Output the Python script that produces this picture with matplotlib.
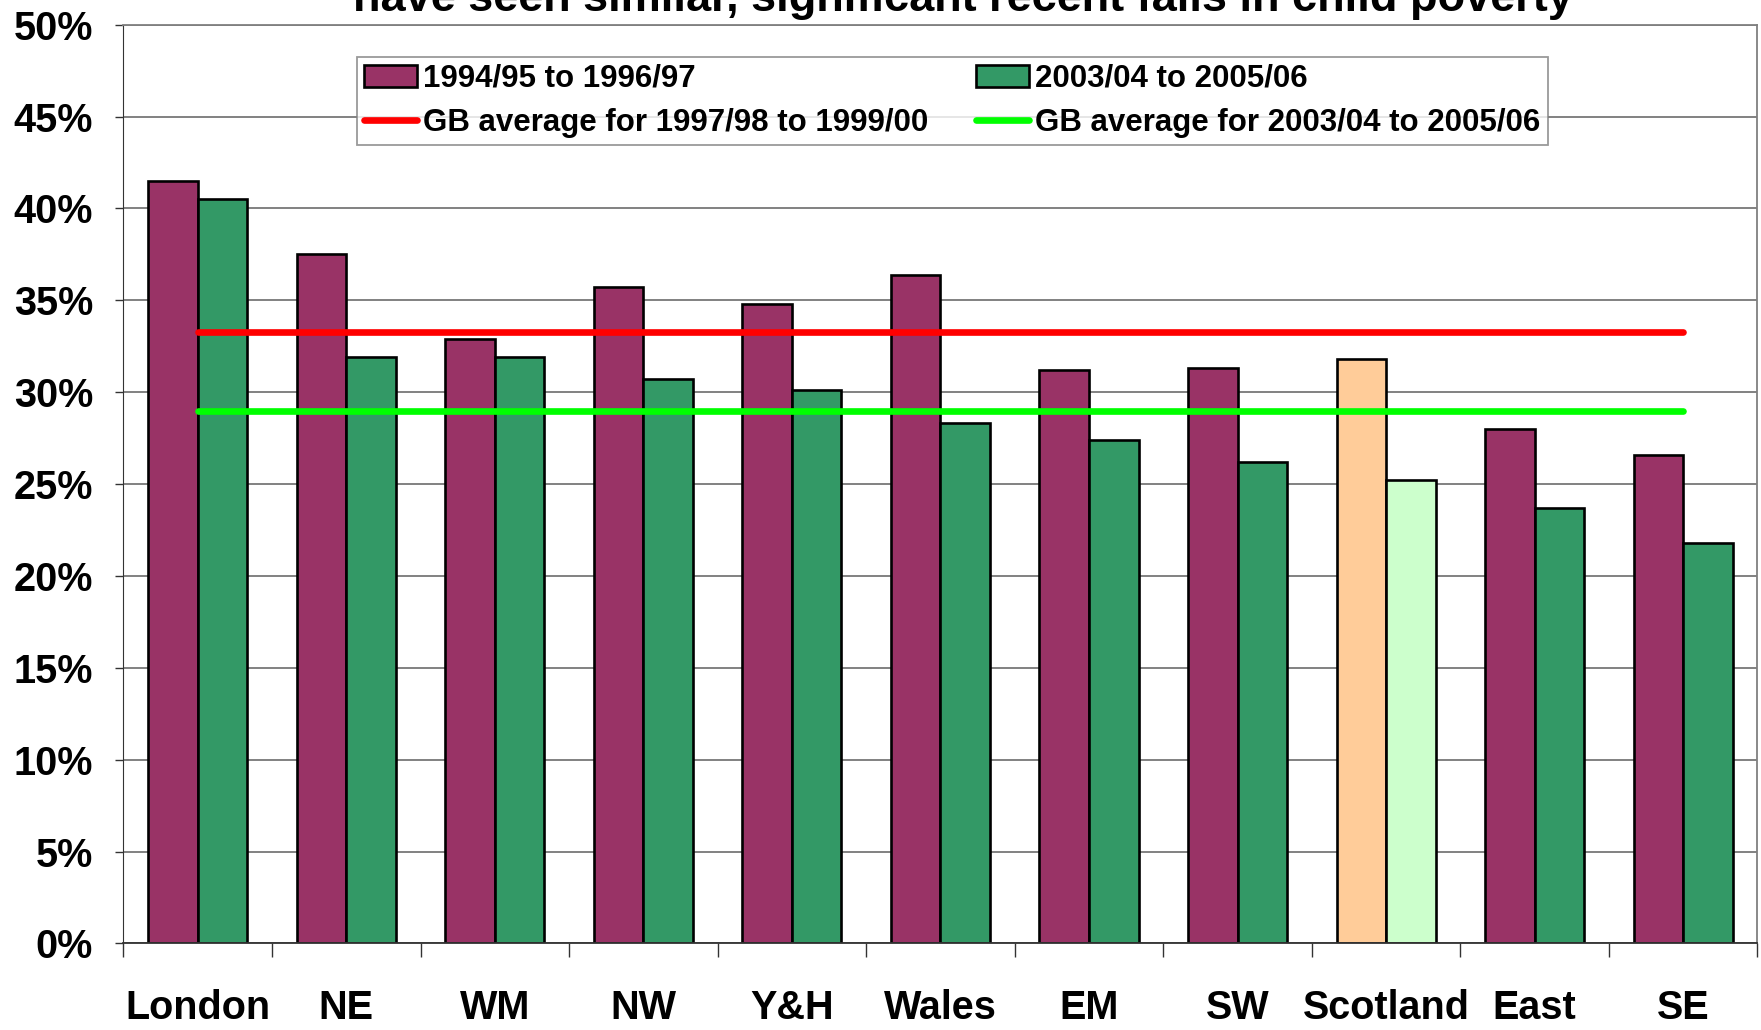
import numpy as np
import matplotlib.pyplot as plt
from matplotlib.ticker import FuncFormatter, FixedLocator

plt.rcParams['font.family'] = ['Liberation Sans', 'DejaVu Sans']
plt.rcParams['font.weight'] = 'bold'

regions = ['London', 'NE', 'WM', 'NW', 'Y&H', 'Wales', 'EM', 'SW', 'Scotland', 'East', 'SE']
early = [41.5, 37.5, 32.9, 35.7, 34.8, 36.4, 31.2, 31.3, 31.8, 28.0, 26.6]   # 1994/95 to 1996/97
late = [40.5, 31.9, 31.9, 30.7, 30.1, 28.3, 27.4, 26.2, 25.2, 23.7, 21.8]    # 2003/04 to 2005/06
gb_avg_early = 33.25   # GB average 1997/98 to 1999/00
gb_avg_late = 29.0     # GB average 2003/04 to 2005/06

purple = '#993366'
green = '#339966'
# Scotland picked out in lighter shades
early_cols = [purple] * len(regions)
late_cols = [green] * len(regions)
early_cols[regions.index('Scotland')] = '#FFCC99'
late_cols[regions.index('Scotland')] = '#CCFFCC'

fig = plt.figure(figsize=(17.61, 10.30), dpi=100)
ax = fig.add_axes([0.0701, 0.0841, 0.9279, 0.8919])

x = np.arange(len(regions))
w = 1.0 / 3
ax.bar(x - w / 2, early, w, color=early_cols, edgecolor='black', linewidth=1.9, zorder=2)
ax.bar(x + w / 2, late, w, color=late_cols, edgecolor='black', linewidth=1.9, zorder=2)

l1, = ax.plot([x[0], x[-1]], [gb_avg_early] * 2, color='#FF0000', lw=4.8,
              solid_capstyle='round', zorder=3)
l2, = ax.plot([x[0], x[-1]], [gb_avg_late] * 2, color='#00FF00', lw=4.8,
              solid_capstyle='round', zorder=3)

ax.set_xlim(-0.5, len(regions) - 0.5)
ax.set_ylim(0, 50)
ax.set_yticks(np.arange(0, 51, 5))
ax.yaxis.set_major_formatter(FuncFormatter(lambda v, p: '%d%%' % v))
ax.yaxis.grid(True, color='#777777', lw=1.3, zorder=0)
ax.set_axisbelow(True)

ax.set_xticks(x)
ax.set_xticklabels(regions)
ax.xaxis.set_minor_locator(FixedLocator(np.arange(-0.5, len(regions), 1.0)))
ax.tick_params(axis='x', which='major', length=0, pad=33, labelsize=28.5)
ax.tick_params(axis='x', which='minor', length=10, width=1.0, color='#333333', direction='out')
ax.tick_params(axis='y', length=6, width=1.0, color='#333333', pad=16, labelsize=28.5)

for s in ['top', 'right']:
    ax.spines[s].set_color('#808080')
    ax.spines[s].set_linewidth(1.3)
ax.spines['left'].set_color('#333333')
ax.spines['bottom'].set_color('#333333')
ax.spines['bottom'].set_linewidth(1.3)

# legend: bars in top row, averages below
h1 = plt.Rectangle((0, 0), 1, 1, fc=purple, ec='black', lw=1.9)
h2 = plt.Rectangle((0, 0), 1, 1, fc=green, ec='black', lw=1.9)
leg = ax.legend([h1, l1, h2, l2],
                ['1994/95 to 1996/97', 'GB average for 1997/98 to 1999/00',
                 '2003/04 to 2005/06', 'GB average for 2003/04 to 2005/06'],
                ncol=2, loc='upper left', bbox_to_anchor=(0.1429, 0.870, 0.7286, 0.0949),
                mode='expand', fontsize=22.5, frameon=True, fancybox=False,
                borderpad=0.22, handlelength=1.7, handletextpad=0.2, labelspacing=0.45,
                columnspacing=0.5, borderaxespad=0)
leg.get_frame().set_edgecolor('#808080')
leg.get_frame().set_linewidth(1.3)
for t in leg.get_texts():
    t.set_fontweight('bold')

fig.text(0.547, 0.989, 'have seen similar, significant recent falls in child poverty',
         ha='center', va='baseline', fontsize=32.5, fontweight='bold')

fig.savefig('out.png', dpi=100)
